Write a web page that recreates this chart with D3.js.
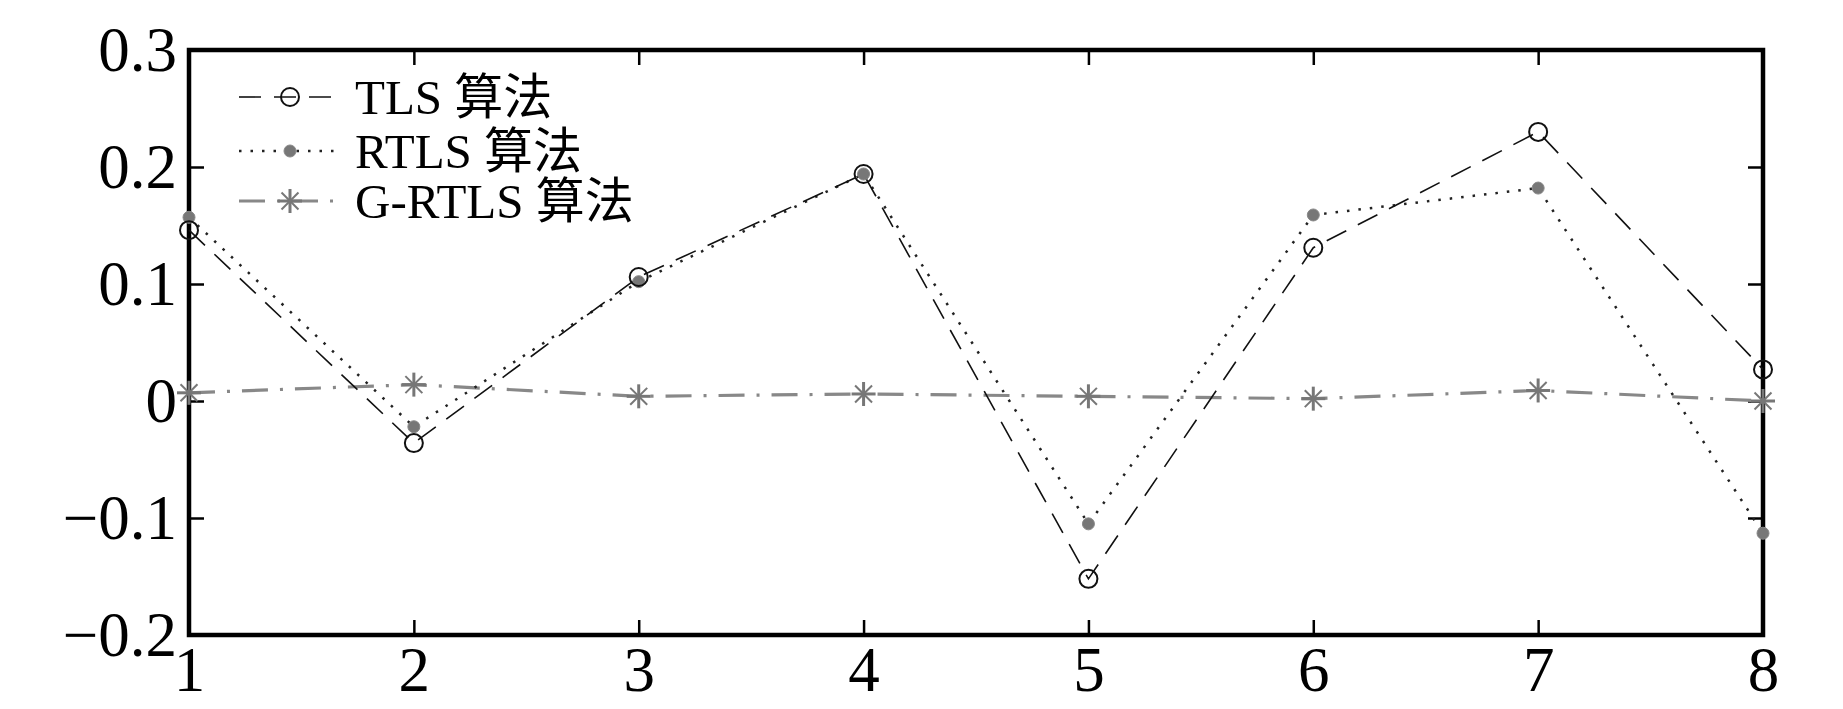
<!DOCTYPE html>
<html>
<head>
<meta charset="utf-8">
<script src="https://cdn.jsdelivr.net/npm/d3@7"></script>
<style>
  body { margin: 0; background: #fff; }
  text { font-family: "Liberation Serif", "Times New Roman", "Noto Sans CJK SC", serif; }
</style>
</head>
<body>
<div id="chart"></div>
<script>
// data
const xs = [1, 2, 3, 4, 5, 6, 7, 8];
const tls = [0.146, -0.036, 0.106, 0.194, -0.152, 0.131, 0.230, 0.027];
const rtls = [0.157, -0.022, 0.102, 0.194, -0.105, 0.159, 0.182, -0.113];
const grtls = [0.007, 0.014, 0.004, 0.006, 0.004, 0.002, 0.009, 0.000];
const yTicks = [-0.2, -0.1, 0, 0.1, 0.2, 0.3];
const legendNames = ['TLS 算法', 'RTLS 算法', 'G-RTLS 算法'];

const width = 1843;
const height = 709;
const margin = {left: 189, right: 80, top: 50, bottom: 74};

const svg = d3.select('#chart')
  .append('svg')
  .attr('width', width)
  .attr('height', height);

const x = d3.scaleLinear()
  .domain([1, 8])
  .range([margin.left, width - margin.right]);

const y = d3.scaleLinear()
  .domain([-0.2, 0.3])
  .range([height - margin.bottom, margin.top]);

const fmt = d => (d < 0 ? '\u2212' : '') + (Math.abs(d) < 1e-9 ? '0' : d3.format('.1f')(Math.abs(d)));

// axes: ticks pointing inwards on all four sides
const tickLen = 15;
const axisBottom = d3.axisBottom(x).tickValues(xs).tickSize(-tickLen).tickPadding(12).tickFormat(d3.format('d'));
const axisTop = d3.axisTop(x).tickValues(xs).tickSize(-tickLen).tickFormat('');
const axisLeft = d3.axisLeft(y).tickValues(yTicks).tickSize(-tickLen).tickPadding(12).tickFormat(fmt);
const axisRight = d3.axisRight(y).tickValues(yTicks).tickSize(-tickLen).tickFormat('');

const gB = svg.append('g').attr('transform', `translate(0,${y(-0.2)})`).call(axisBottom);
const gT = svg.append('g').attr('transform', `translate(0,${y(0.3)})`).call(axisTop);
const gL = svg.append('g').attr('transform', `translate(${x(1)},0)`).call(axisLeft);
const gR = svg.append('g').attr('transform', `translate(${x(8)},0)`).call(axisRight);

[gB, gT, gL, gR].forEach(g => {
  g.select('.domain').remove();
  g.selectAll('.tick line').attr('stroke', '#000').attr('stroke-width', 2.5);
  g.selectAll('.tick text').attr('fill', '#000').style('font-size', '63px');
});
gB.selectAll('.tick text').attr('dy', '0.7em');

// frame
svg.append('rect')
  .attr('x', x(1))
  .attr('y', y(0.3))
  .attr('width', x(8) - x(1))
  .attr('height', y(-0.2) - y(0.3))
  .attr('fill', 'none')
  .attr('stroke', '#000')
  .attr('stroke-width', 4.5);

const line = d3.line().x((d, i) => x(xs[i])).y(d => y(d));

const styles = [
  {data: tls, color: '#111', dash: '22,13', width: 1.6, marker: 'circle'},
  {data: rtls, color: '#222', dash: '2.5,9', width: 2.5, marker: 'dot'},
  {data: grtls, color: '#888', dash: '26,12,3,12', width: 3.2, marker: 'star'}
];

function drawMarker(g, kind, cx, cy) {
  if (kind === 'circle') {
    g.append('circle').attr('cx', cx).attr('cy', cy).attr('r', 9)
      .attr('fill', 'none').attr('stroke', '#111').attr('stroke-width', 2);
  } else if (kind === 'dot') {
    g.append('circle').attr('cx', cx).attr('cy', cy).attr('r', 6)
      .attr('fill', '#777').attr('stroke', '#888').attr('stroke-width', 1);
  } else {
    const r = 12;
    [0, 45, 90, 135].forEach(a => {
      const t = a * Math.PI / 180;
      g.append('line')
        .attr('x1', cx - r * Math.cos(t)).attr('y1', cy - r * Math.sin(t))
        .attr('x2', cx + r * Math.cos(t)).attr('y2', cy + r * Math.sin(t))
        .attr('stroke', '#777').attr('stroke-width', a % 90 === 0 ? 3 : 2);
    });
  }
}

const plot = svg.append('g');
styles.slice().reverse().forEach(s => {
  plot.append('path')
    .attr('d', line(s.data))
    .attr('fill', 'none')
    .attr('stroke', s.color)
    .attr('stroke-width', s.width)
    .attr('stroke-dasharray', s.dash);
});
styles.slice().reverse().forEach(s => {
  s.data.forEach((v, i) => drawMarker(plot, s.marker, x(xs[i]), y(v)));
});

// legend
const legend = svg.append('g');
const legY = [97, 151, 201];
styles.forEach((s, i) => {
  legend.append('line')
    .attr('x1', 239).attr('x2', 341)
    .attr('y1', legY[i]).attr('y2', legY[i])
    .attr('stroke', s.color)
    .attr('stroke-width', s.width)
    .attr('stroke-dasharray', s.dash);
  drawMarker(legend, s.marker, 290, legY[i]);
  legend.append('text')
    .attr('x', 355)
    .attr('y', legY[i])
    .attr('dy', '0.35em')
    .style('font-size', '49px')
    .text(legendNames[i]);
});
</script>
</body>
</html>
